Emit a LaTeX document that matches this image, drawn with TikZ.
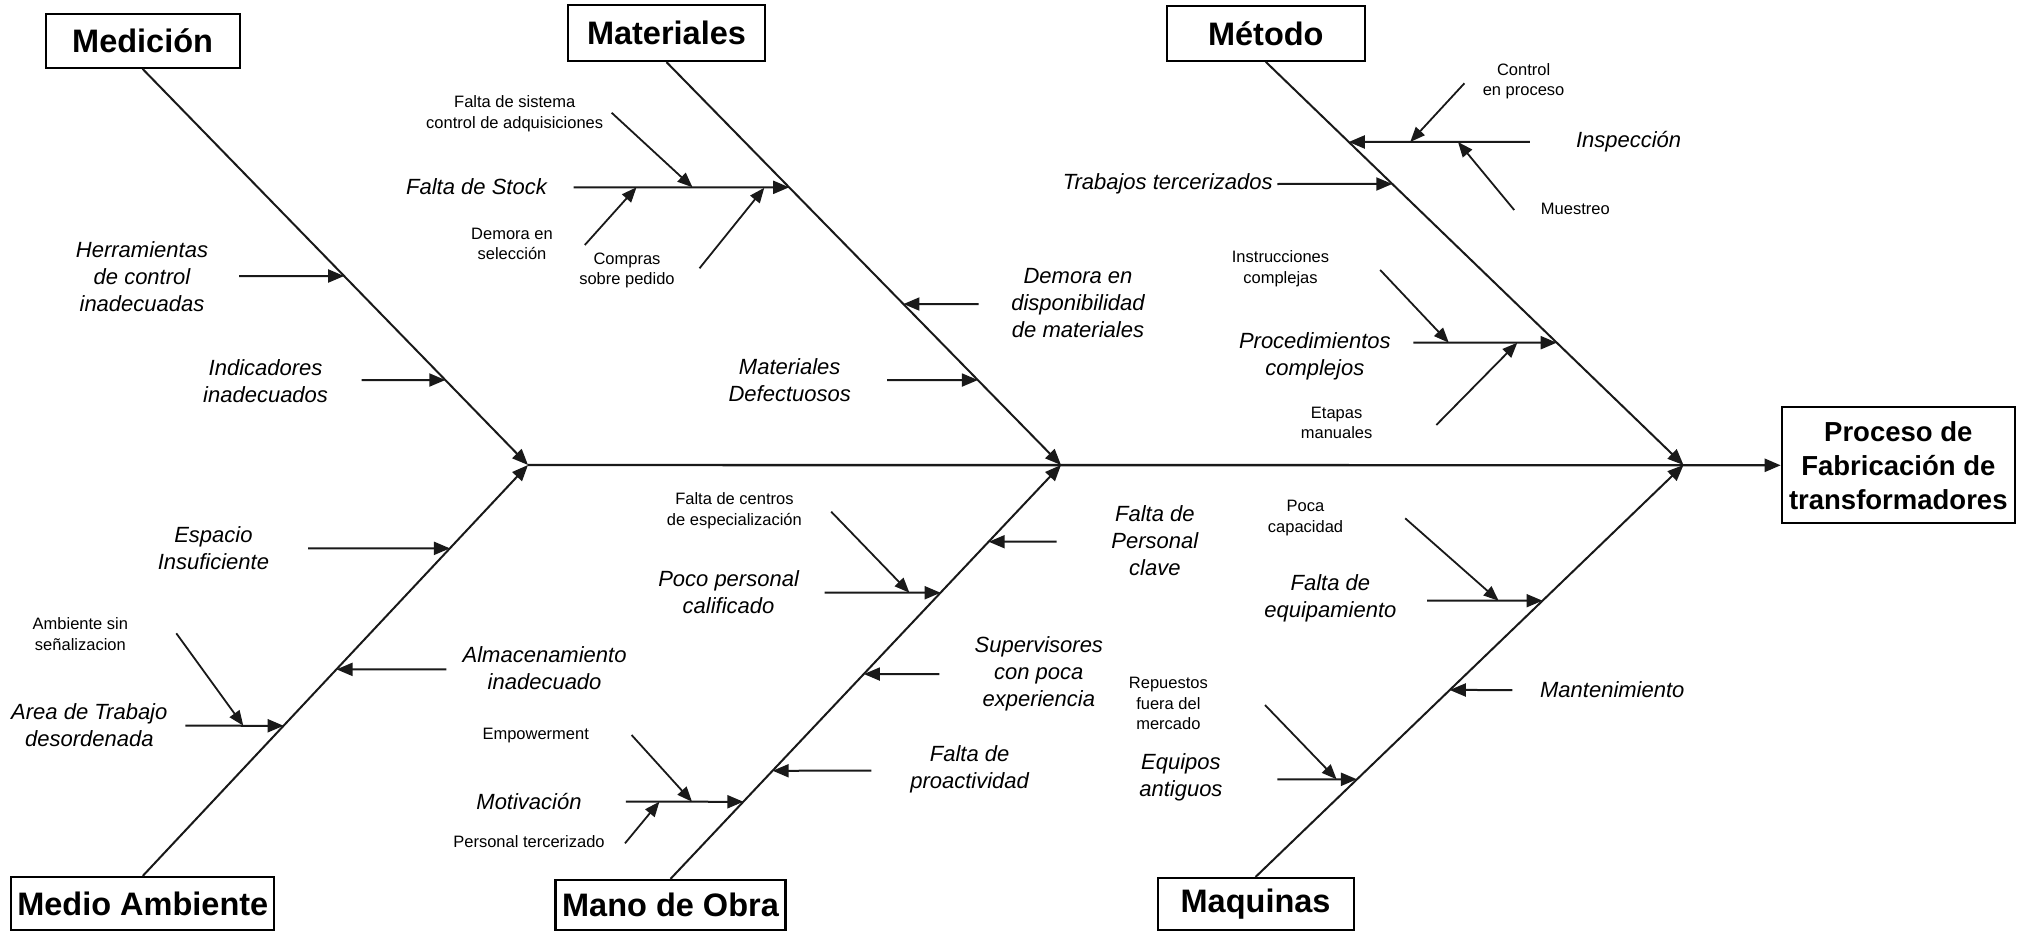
\documentclass[tikz,border=0pt]{standalone}
\usepackage{fontspec}
\setmainfont{Liberation Sans}
\usetikzlibrary{arrows.meta}

% a main cause: free end #2,#3 and an arrow onto the spine #4--#5 at the same height
\newcommand\hitspine[5]{%
  \coordinate (#1-s) at (#2,#3);
  \coordinate (#1-t) at (intersection of #4--#5 and 0,#3--9,#3);
  \draw[arr] (#1-s) -- (#1-t);}
% a secondary cause: arrow from #2,#3 onto a branch at #4,#5
\newcommand\subcause[5]{%
  \coordinate (#1-a) at (#2,#3);
  \coordinate (#1-b) at (#4,#5);
  \draw[subarr] (#1-a) -- (#1-b);}

\begin{document}
\begin{tikzpicture}[x=1pt,y=-1pt,
  arr/.style={line width=2pt, draw=black!90, -{Triangle[length=16pt,width=13pt]}},
  subarr/.style={line width=1.8pt, draw=black!90, -{Triangle[length=15pt,width=12pt]}},
  catbox/.style={draw, line width=2.2pt, inner sep=0pt,
                 font=\fontsize{32.5}{38}\selectfont\bfseries},
  cause/.style={font=\fontsize{22}{27}\selectfont\itshape, align=center, inner sep=0pt},
  detail/.style={font=\fontsize{16.5}{20.5}\selectfont, align=center, inner sep=0pt},
]
\useasboundingbox (0,0) rectangle (2027,931);

% category boxes and the effect
\node[catbox, minimum width=194pt, minimum height=54pt] (med)  at (142.6,40.8) {Medición};
\node[catbox, minimum width=197pt, minimum height=56pt] (mat)  at (666.5,33)   {Materiales};
\node[catbox, minimum width=198pt, minimum height=55pt] (met)  at (1265.8,33.3) {Método};
\node[catbox, minimum width=263pt, minimum height=53pt] (amb)  at (142.8,903.5) {Medio Ambiente};
\node[catbox, minimum width=230pt, minimum height=50pt] (mano) at (670.5,905)  {Mano de Obra};
\node[catbox, minimum width=196pt, minimum height=52pt] (maq)  at (1255.6,904) {Maquinas};
\node[catbox, font=\fontsize{27.5}{34}\selectfont\bfseries, align=center,
      minimum width=233pt, minimum height=116pt] (proc) at (1898.3,465.3)
      {Proceso de\\Fabricación de\\transformadores};

% spine junctions on the backbone
\coordinate (j1) at (528,465);
\coordinate (j2) at (1061,465);
\coordinate (j3) at (1683.5,465);

\draw[arr, line width=2.4pt] (j1) -- (proc.west);
\draw[arr] (med.south)  -- (j1);
\draw[arr] (amb.north)  -- (j1);
\draw[arr] (mat.south)  -- (j2);
\draw[arr] (mano.north) -- (j2);
\draw[arr] (met.south)  -- (j3);
\draw[arr] (maq.north)  -- (j3);

% ---- Medición
\node[cause] (herr)  at (142,276.3) {Herramientas\\de control\\inadecuadas};
\node[cause] (indic) at (265.6,381) {Indicadores\\inadecuados};
\hitspine{herr}{239}{276}{med.south}{j1}
\hitspine{indic}{361.6}{380}{med.south}{j1}

% ---- Materiales
\node[cause]  (stock)   at (476.5,187)  {Falta de Stock};
\node[detail] (sist)    at (514.7,113.5) {Falta de sistema\\control de adquisiciones};
\node[detail] (dsel)    at (512,244)    {Demora en\\selección};
\node[detail] (compras) at (627,270.5)  {Compras\\sobre pedido};
\node[cause]  (ddisp)   at (1078,303)   {Demora en\\disponibilidad\\de materiales};
\node[cause]  (mdef)    at (789.7,380)  {Materiales\\Defectuosos};
\hitspine{stock}{573.6}{187.3}{mat.south}{j2}
\subcause{sist}{611.6}{112.7}{692.5}{187.3}
\subcause{dsel}{584.8}{245}{636.5}{187.3}
\subcause{compras}{699.5}{268.3}{764.3}{187.8}
\hitspine{ddisp}{978.5}{304}{mat.south}{j2}
\hitspine{mdef}{887}{380}{mat.south}{j2}

% ---- Método
\node[cause]  (insp)   at (1628.6,141.7) {Inspección};
\node[detail] (ctrl)   at (1523.6,81.2)  {Control\\en proceso};
\node[detail] (muest)  at (1575.3,209.3) {Muestreo};
\node[cause]  (trab)   at (1167.7,184)   {Trabajos tercerizados};
\node[cause]  (proced) at (1314.8,356.3) {Procedimientos\\complejos};
\node[detail] (instr)  at (1280.5,268.8) {Instrucciones\\complejas};
\node[detail] (etapas) at (1336.6,423)   {Etapas\\manuales};
\hitspine{insp}{1529.8}{142}{met.south}{j3}
\subcause{ctrl}{1464.4}{83.3}{1410.2}{142}
\subcause{muest}{1514.2}{210}{1458}{142}
\hitspine{trab}{1277.4}{184}{met.south}{j3}
\hitspine{proced}{1413.3}{342.7}{met.south}{j3}
\subcause{instr}{1380.2}{270}{1448.8}{342.7}
\subcause{etapas}{1436.3}{425}{1517.3}{342.7}

% ---- Mano de Obra
\node[cause]  (fpers)   at (1154.9,540.8) {Falta de\\Personal\\clave};
\node[cause]  (poco)    at (728.6,591.7)  {Poco personal\\calificado};
\node[detail] (centros) at (734.4,510.7)  {Falta de centros\\de especialización};
\node[cause]  (superv)  at (1038.8,674)   {Supervisores\\con poca\\experiencia};
\node[cause]  (proact)  at (969.6,769)    {Falta de\\proactividad};
\node[cause]  (motiv)   at (529,801.7)    {Motivación};
\node[detail] (empow)   at (535.7,736)    {Empowerment};
\node[detail] (pterc)   at (529,841.7)    {Personal tercerizado};
\hitspine{fpers}{1056.7}{541.7}{mano.north}{j2}
\hitspine{poco}{824.5}{592.7}{mano.north}{j2}
\subcause{centros}{831.2}{511.7}{909.4}{592.7}
\hitspine{superv}{939.3}{674}{mano.north}{j2}
\hitspine{proact}{871.4}{770.7}{mano.north}{j2}
\hitspine{motiv}{625.9}{801.7}{mano.north}{j2}
\subcause{empow}{631.6}{735}{692}{801.7}
\subcause{pterc}{625}{843.3}{659.4}{801.7}

% ---- Medio Ambiente
\node[cause]  (espacio) at (213.4,548.3) {Espacio\\Insuficiente};
\node[cause]  (almac)   at (544.6,668.3) {Almacenamiento\\inadecuado};
\node[cause]  (area)    at (89.3,725)    {Area de Trabajo\\desordenada};
\node[detail] (ambsen)  at (80.4,634)    {Ambiente sin\\señalizacion};
\hitspine{espacio}{308}{548.3}{amb.north}{j1}
\hitspine{almac}{446.4}{669.3}{amb.north}{j1}
\hitspine{area}{185.3}{725.7}{amb.north}{j1}
\subcause{ambsen}{176.3}{633.3}{243.3}{725.7}

% ---- Maquinas
\node[cause]  (fequip)    at (1330.4,598.7) {Falta de\\equipamiento};
\node[detail] (pocacap)   at (1305.5,517.8) {Poca\\capacidad};
\node[cause]  (mant)      at (1612.3,690)   {Mantenimiento};
\node[cause]  (equipos)   at (1180.9,777.5) {Equipos\\antiguos};
\node[detail] (repuestos) at (1168.4,703.7) {Repuestos\\fuera del\\mercado};
\hitspine{fequip}{1427}{600.7}{maq.north}{j3}
\subcause{pocacap}{1405.2}{518.3}{1498.6}{600.7}
\hitspine{mant}{1512.3}{690}{maq.north}{j3}
\hitspine{equipos}{1277.4}{779.3}{maq.north}{j3}
\subcause{repuestos}{1265}{705}{1336.6}{779.3}

\end{tikzpicture}
\end{document}
